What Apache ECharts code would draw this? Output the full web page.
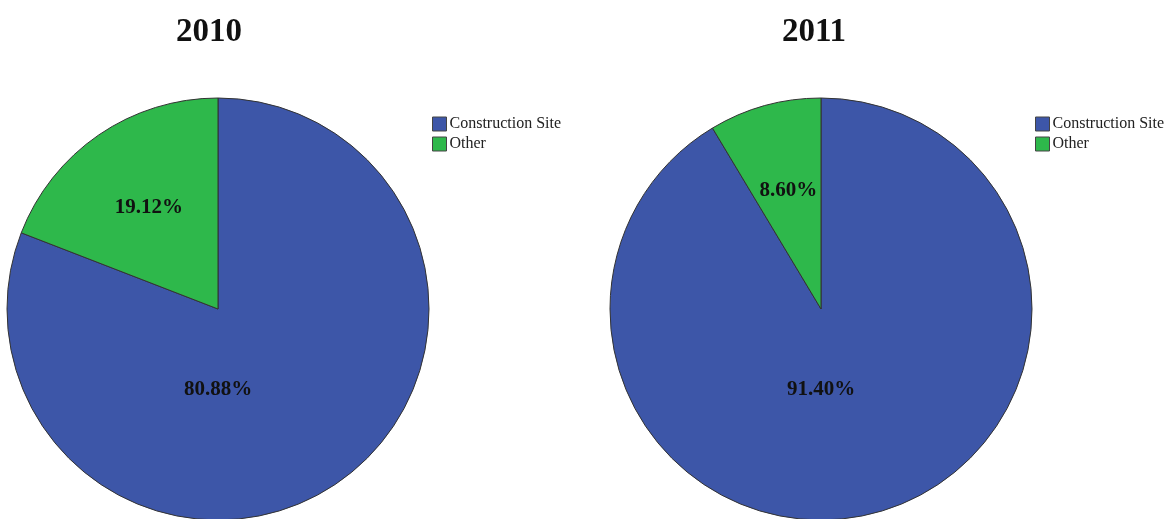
<!DOCTYPE html>
<html>
<head>
<meta charset="utf-8">
<script src="https://cdn.jsdelivr.net/npm/echarts@6/dist/echarts.min.js"></script>
<style>
html,body{margin:0;padding:0;background:#fff;}
#chart{width:1167px;height:519px;}
</style>
</head>
<body>
<div id="chart"></div>
<script>
const categories = ['Construction Site', 'Other'];
const years = ['2010', '2011'];
const values2010 = [80.88, 19.12];
const values2011 = [91.40, 8.60];

const colors = ['#3d56a8', '#2eb84b'];
const R = 211;
const centers = [[218, 309], [821, 309]];
const font = '"Liberation Serif", "DejaVu Serif", serif';

function labelOffset(vals, idx) {
  if (idx === 0) return [0, 0.38 * R];
  // Other slice: along mid-angle at ~0.58R (counter-clockwise from top)
  const share = vals[1] / (vals[0] + vals[1]);
  const mid = (90 + share * 180) * Math.PI / 180;
  return [0.58 * R * Math.cos(mid), -0.58 * R * Math.sin(mid)];
}

function makeSeries(vals, c) {
  return {
    type: 'pie',
    center: c,
    radius: R,
    startAngle: 90,
    clockwise: true,
    avoidLabelOverlap: false,
    silent: true,
    itemStyle: { borderColor: '#333', borderWidth: 1 },
    data: categories.map((n, i) => ({
      name: n,
      value: vals[i],
      itemStyle: { color: colors[i] },
      label: { offset: labelOffset(vals, i) }
    })),
    label: {
      show: true,
      position: 'center',
      formatter: p => p.value.toFixed(2) + '%',
      fontFamily: font,
      fontWeight: 'bold',
      fontSize: 21,
      color: '#111'
    },
    labelLine: { show: false },
    emphasis: { disabled: true }
  };
}

function makeLegend(left) {
  return {
    left: left,
    top: 116,
    padding: 0,
    orient: 'vertical',
    icon: 'rect',
    itemWidth: 14,
    itemHeight: 14,
    itemGap: 4,
    data: categories,
    itemStyle: { borderColor: '#444', borderWidth: 1 },
    textStyle: { fontFamily: font, fontSize: 16, color: '#222', padding: [0, 0, 0, -2] },
    selectedMode: false
  };
}

const chart = echarts.init(document.getElementById('chart'));
chart.setOption({
  animation: false,
  color: colors,
  title: years.map((y, i) => ({
    text: y,
    left: [204, 809][i],
    top: 11,
    textAlign: 'center',
    textStyle: { fontFamily: font, fontWeight: 'bold', fontSize: 33, color: '#111' }
  })),
  legend: [makeLegend(432), makeLegend(1035)],
  series: [makeSeries(values2010, centers[0]), makeSeries(values2011, centers[1])]
});
</script>
</body>
</html>
